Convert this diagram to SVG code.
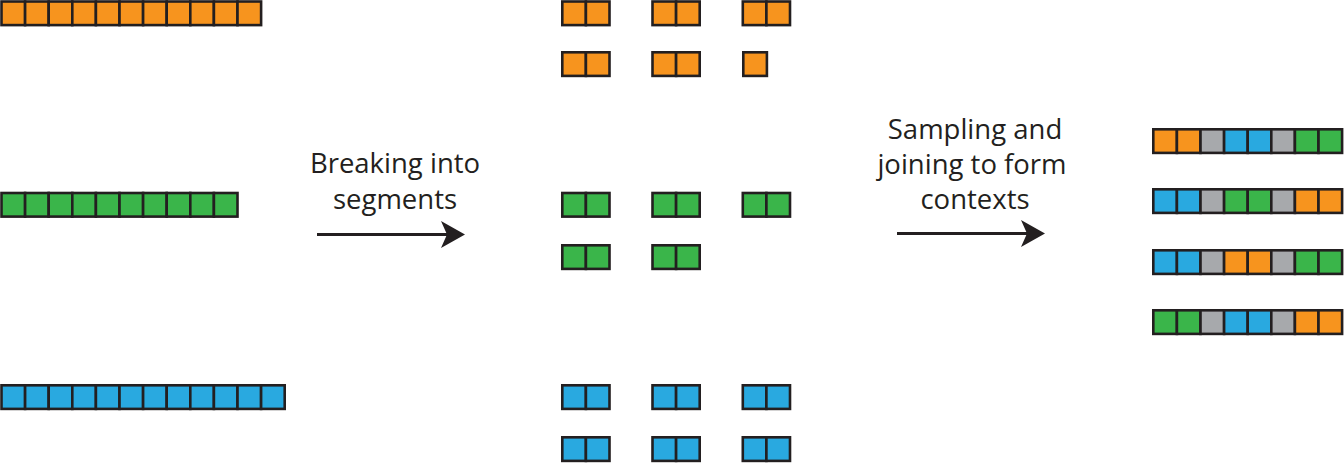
<svg xmlns="http://www.w3.org/2000/svg" width="1344" height="463" viewBox="0 0 1344 463">
<style>
rect{stroke:#231f20;stroke-width:2.6;width:23.6px;height:23.6px}
.o{fill:#f7941e}.g{fill:#3ab54a}.b{fill:#29a9e0}.x{fill:#a7a9ac}
text{font-family:"Open Sans","Liberation Sans",sans-serif;font-size:27.5px;fill:#231f20;text-anchor:middle}
.arr{stroke:#231f20;stroke-width:2.8;fill:none;marker-end:url(#ah)}
</style>
<defs>
<marker id="ah" markerUnits="userSpaceOnUse" viewBox="0 0 24 27" refX="7" refY="13.5" markerWidth="24" markerHeight="27" orient="auto">
<path d="M0,0 L24,13.5 L0,27 L6,13.5 Z" fill="#231f20"/>
</marker>
</defs>
<g id="orange-seq">
<rect class="o" x="1.5" y="1.5"/><rect class="o" x="25.1" y="1.5"/><rect class="o" x="48.7" y="1.5"/><rect class="o" x="72.3" y="1.5"/><rect class="o" x="95.9" y="1.5"/><rect class="o" x="119.5" y="1.5"/><rect class="o" x="143.1" y="1.5"/><rect class="o" x="166.7" y="1.5"/><rect class="o" x="190.3" y="1.5"/><rect class="o" x="213.9" y="1.5"/><rect class="o" x="237.5" y="1.5"/>
</g>
<g id="green-seq">
<rect class="g" x="1.5" y="193"/><rect class="g" x="25.1" y="193"/><rect class="g" x="48.7" y="193"/><rect class="g" x="72.3" y="193"/><rect class="g" x="95.9" y="193"/><rect class="g" x="119.5" y="193"/><rect class="g" x="143.1" y="193"/><rect class="g" x="166.7" y="193"/><rect class="g" x="190.3" y="193"/><rect class="g" x="213.9" y="193"/>
</g>
<g id="blue-seq">
<rect class="b" x="1.5" y="385.3"/><rect class="b" x="25.1" y="385.3"/><rect class="b" x="48.7" y="385.3"/><rect class="b" x="72.3" y="385.3"/><rect class="b" x="95.9" y="385.3"/><rect class="b" x="119.5" y="385.3"/><rect class="b" x="143.1" y="385.3"/><rect class="b" x="166.7" y="385.3"/><rect class="b" x="190.3" y="385.3"/><rect class="b" x="213.9" y="385.3"/><rect class="b" x="237.5" y="385.3"/><rect class="b" x="261.1" y="385.3"/>
</g>
<g id="orange-segments">
<rect class="o" x="562.3" y="1.5"/><rect class="o" x="585.9" y="1.5"/>
<rect class="o" x="652.5" y="1.5"/><rect class="o" x="676.1" y="1.5"/>
<rect class="o" x="742.8" y="1.5"/><rect class="o" x="766.4" y="1.5"/>
<rect class="o" x="562.3" y="52.3"/><rect class="o" x="585.9" y="52.3"/>
<rect class="o" x="652.5" y="52.3"/><rect class="o" x="676.1" y="52.3"/>
<rect class="o" x="743.3" y="52.3"/>
</g>
<g id="green-segments">
<rect class="g" x="562.3" y="193"/><rect class="g" x="585.9" y="193"/>
<rect class="g" x="652.5" y="193"/><rect class="g" x="676.1" y="193"/>
<rect class="g" x="742.8" y="193"/><rect class="g" x="766.4" y="193"/>
<rect class="g" x="562.3" y="245.3"/><rect class="g" x="585.9" y="245.3"/>
<rect class="g" x="652.5" y="245.3"/><rect class="g" x="676.1" y="245.3"/>
</g>
<g id="blue-segments">
<rect class="b" x="562.3" y="385.3"/><rect class="b" x="585.9" y="385.3"/>
<rect class="b" x="652.5" y="385.3"/><rect class="b" x="676.1" y="385.3"/>
<rect class="b" x="742.8" y="385.3"/><rect class="b" x="766.4" y="385.3"/>
<rect class="b" x="562.3" y="437.3"/><rect class="b" x="585.9" y="437.3"/>
<rect class="b" x="652.5" y="437.3"/><rect class="b" x="676.1" y="437.3"/>
<rect class="b" x="742.8" y="437.3"/><rect class="b" x="766.4" y="437.3"/>
</g>
<g id="context-1">
<rect class="o" x="1153.3" y="129.3"/><rect class="o" x="1176.9" y="129.3"/><rect class="x" x="1200.5" y="129.3"/><rect class="b" x="1224.1" y="129.3"/><rect class="b" x="1247.7" y="129.3"/><rect class="x" x="1271.3" y="129.3"/><rect class="g" x="1294.9" y="129.3"/><rect class="g" x="1318.5" y="129.3"/>
</g>
<g id="context-2">
<rect class="b" x="1153.3" y="189.3"/><rect class="b" x="1176.9" y="189.3"/><rect class="x" x="1200.5" y="189.3"/><rect class="g" x="1224.1" y="189.3"/><rect class="g" x="1247.7" y="189.3"/><rect class="x" x="1271.3" y="189.3"/><rect class="o" x="1294.9" y="189.3"/><rect class="o" x="1318.5" y="189.3"/>
</g>
<g id="context-3">
<rect class="b" x="1153.3" y="250.3"/><rect class="b" x="1176.9" y="250.3"/><rect class="x" x="1200.5" y="250.3"/><rect class="o" x="1224.1" y="250.3"/><rect class="o" x="1247.7" y="250.3"/><rect class="x" x="1271.3" y="250.3"/><rect class="g" x="1294.9" y="250.3"/><rect class="g" x="1318.5" y="250.3"/>
</g>
<g id="context-4">
<rect class="g" x="1153.3" y="310.3"/><rect class="g" x="1176.9" y="310.3"/><rect class="x" x="1200.5" y="310.3"/><rect class="b" x="1224.1" y="310.3"/><rect class="b" x="1247.7" y="310.3"/><rect class="x" x="1271.3" y="310.3"/><rect class="o" x="1294.9" y="310.3"/><rect class="o" x="1318.5" y="310.3"/>
</g>
<g id="connectors">
<line class="arr" x1="317" y1="234.5" x2="448" y2="234.5"/>
<line class="arr" x1="897" y1="233.5" x2="1028" y2="233.5"/>
</g>
<g id="labels">
<text x="395" y="173">Breaking into</text>
<text x="395" y="208.5">segments</text>
<text x="975" y="139">Sampling and</text>
<text x="972" y="174">joining to form</text>
<text x="975" y="208.5">contexts</text>
</g>
</svg>
